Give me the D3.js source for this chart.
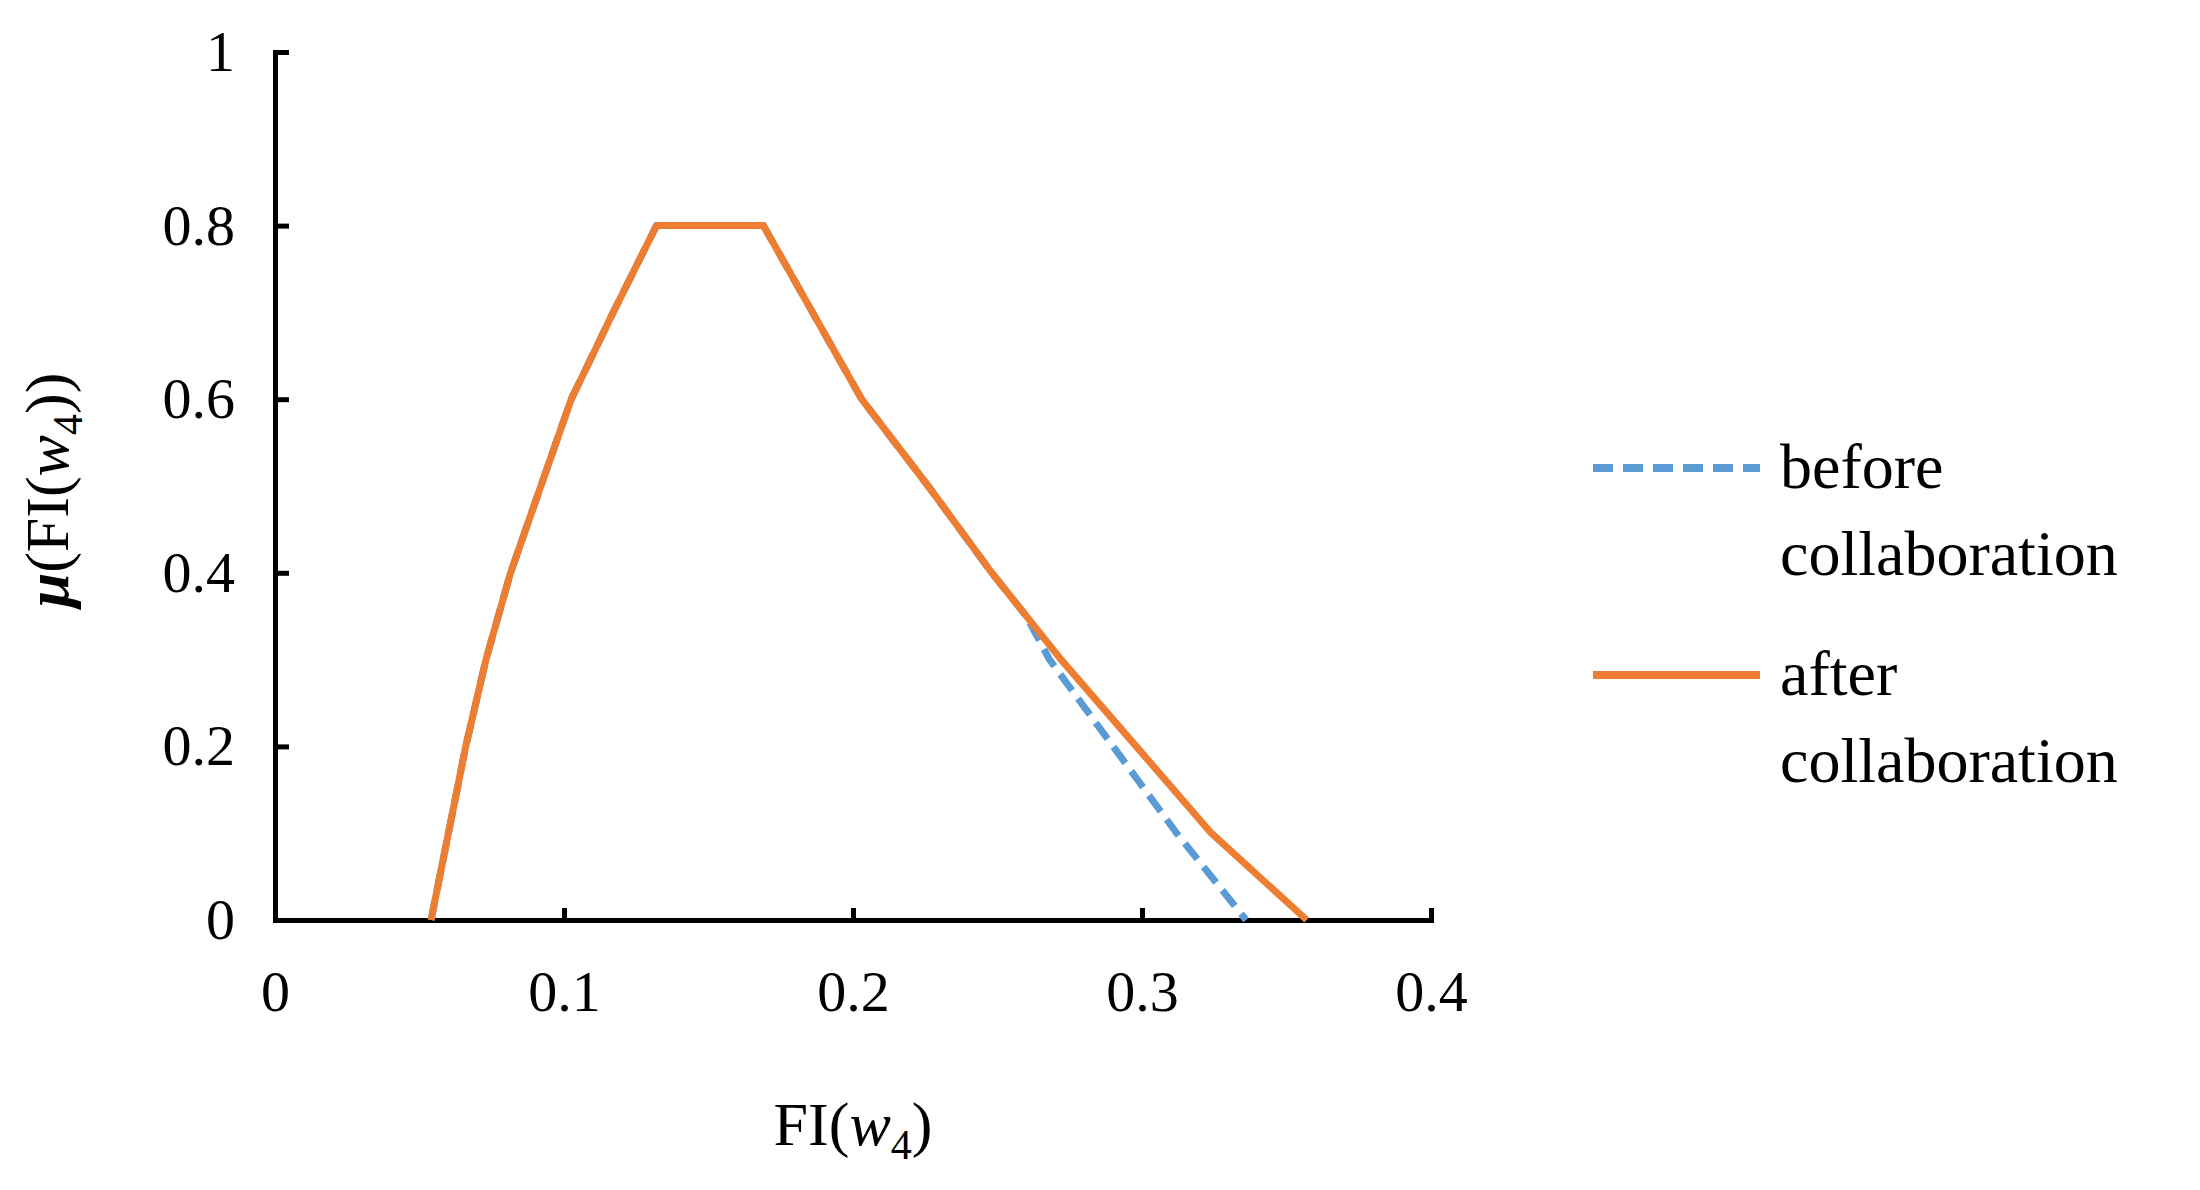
<!DOCTYPE html>
<html><head><meta charset="utf-8">
<script src="https://cdn.jsdelivr.net/npm/d3@7"></script>
<style>body{margin:0;background:#fff}text{font-family:"Liberation Serif","Times New Roman",serif;fill:#000}</style>
</head><body>
<script>
var beforeX = [0.054, 0.066, 0.073, 0.0815, 0.092, 0.1025, 0.117, 0.132, 0.169, 0.186, 0.203, 0.226, 0.248, 0.260, 0.268, 0.290, 0.312, 0.336];
var beforeY = [0, 0.2, 0.3, 0.4, 0.5, 0.6, 0.7, 0.8, 0.8, 0.7, 0.6, 0.5, 0.4, 0.35, 0.3, 0.2, 0.1, 0];
var afterX = [0.054, 0.066, 0.073, 0.0815, 0.092, 0.1025, 0.117, 0.132, 0.169, 0.186, 0.203, 0.226, 0.248, 0.272, 0.298, 0.324, 0.357];
var afterY = [0, 0.2, 0.3, 0.4, 0.5, 0.6, 0.7, 0.8, 0.8, 0.7, 0.6, 0.5, 0.4, 0.3, 0.2, 0.1, 0];
var xTicks = [0, 0.1, 0.2, 0.3, 0.4];
var yTicks = [0, 0.2, 0.4, 0.6, 0.8, 1];

var width = 2200, height = 1190;
var svg = d3.select("body").append("svg").attr("width", width).attr("height", height);

var x = d3.scaleLinear().domain([0, 0.4]).range([275, 1431]);
var y = d3.scaleLinear().domain([0, 1]).range([920, 52]);

var xAxis = svg.append("g").attr("transform", "translate(0," + y(0) + ")")
    .call(d3.axisBottom(x).tickValues(xTicks).tickSize(-12).tickPadding(50).tickFormat(d3.format("")));
var yAxis = svg.append("g").attr("transform", "translate(" + x(0) + ",0)")
    .call(d3.axisLeft(y).tickValues(yTicks).tickSize(-14).tickPadding(40).tickFormat(d3.format("")));
svg.selectAll(".domain").attr("stroke", "#000").attr("stroke-width", 5);
svg.selectAll(".tick line").attr("stroke", "#000").attr("stroke-width", 5);
svg.selectAll(".tick text").style("font-size", "58px").style("font-family", "Liberation Serif");
xAxis.selectAll(".tick text").attr("dy", "0.71em");

function series(xs, ys){ return xs.map(function(v, i){ return [v, ys[i]]; }); }
var line = d3.line().x(function(d){ return x(d[0]); }).y(function(d){ return y(d[1]); });

svg.append("path").datum(series(beforeX, beforeY)).attr("d", line)
    .attr("fill", "none").attr("stroke", "#5b9bd5").attr("stroke-width", 7).attr("stroke-dasharray", "20,10");
svg.append("path").datum(series(afterX, afterY)).attr("d", line)
    .attr("fill", "none").attr("stroke", "#ed7d31").attr("stroke-width", 7).attr("stroke-linejoin", "round");

// axis titles
var xt = svg.append("text").attr("x", 853).attr("y", 1145).attr("text-anchor", "middle").style("font-size", "62px");
xt.append("tspan").text("FI(");
xt.append("tspan").style("font-style", "italic").text("w");
xt.append("tspan").attr("dy", 14).style("font-size", "42px").text("4");
xt.append("tspan").attr("dy", -14).text(")");

var yt = svg.append("text").attr("transform", "translate(68,490) rotate(-90)").attr("text-anchor", "middle").style("font-size", "62px");
yt.append("tspan").style("font-style", "italic").style("font-weight", "bold").text("μ");
yt.append("tspan").text("(FI(");
yt.append("tspan").style("font-style", "italic").text("w");
yt.append("tspan").attr("dy", 14).style("font-size", "42px").text("4");
yt.append("tspan").attr("dy", -14).text("))");

// legend
var legend = [{label: ["before", "collaboration"], color: "#5b9bd5", dash: "20,10", y: 468},
              {label: ["after", "collaboration"], color: "#ed7d31", dash: null, y: 675}];
legend.forEach(function(l){
  svg.append("line").attr("x1", 1593).attr("x2", 1760).attr("y1", l.y).attr("y2", l.y)
    .attr("stroke", l.color).attr("stroke-width", 8).attr("stroke-dasharray", l.dash);
  l.label.forEach(function(t, i){
    svg.append("text").attr("x", 1780).attr("y", l.y + 20 + i * 87).style("font-size", "64px").text(t);
  });
});
</script>
</body></html>
